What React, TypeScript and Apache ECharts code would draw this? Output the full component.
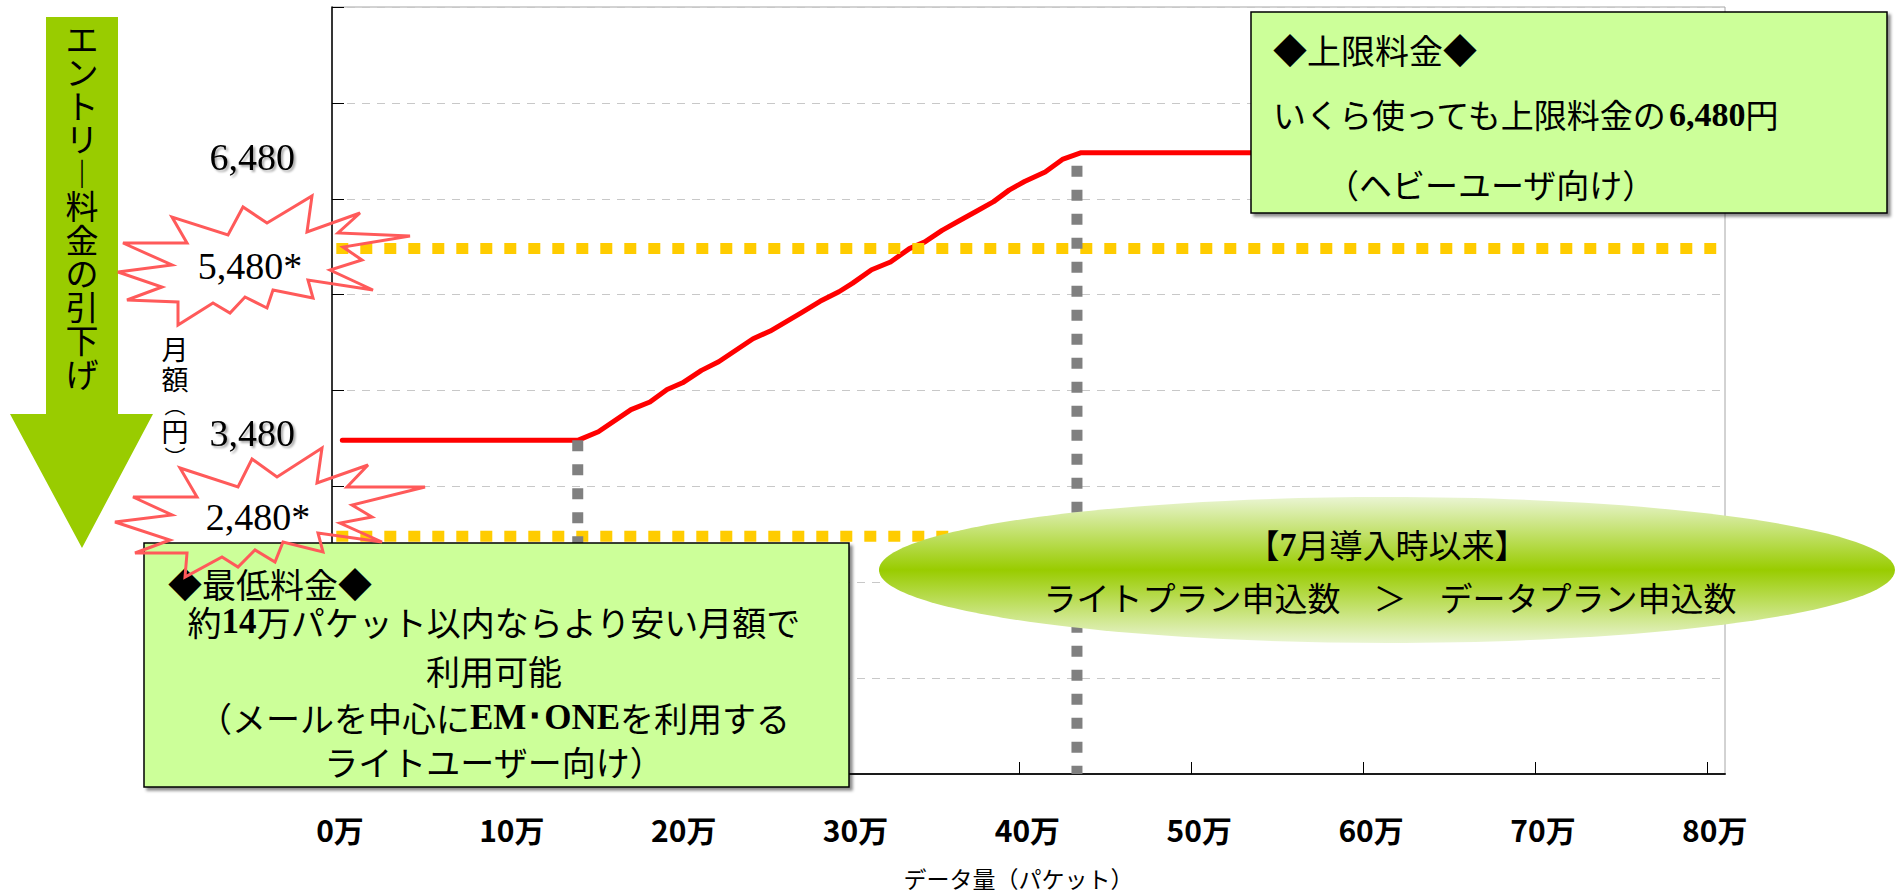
import { useEffect, useRef } from "react";
import * as echarts from "echarts";

// 横軸：データ量（万パケット）、縦軸：月額（円）
const xTickValues = [0, 10, 20, 30, 40, 50, 60, 70, 80];
const yAxisMax = 8000;
const yAxisStep = 1000;
const priceLabelValues = [3480, 6480];

// 従来料金カーブ（万パケット, 円）
const priceCurve: [number, number][] = [
  [0.6, 3480], [14.3, 3480], [15.5, 3570], [17.4, 3800], [18.5, 3880],
  [19.5, 4010], [20.4, 4080], [21.5, 4210], [22.5, 4300], [24.5, 4540],
  [25.5, 4620], [27.3, 4810], [28.4, 4930], [29.5, 5030], [30.3, 5120],
  [31.4, 5260], [32.5, 5340], [33.6, 5480], [34.5, 5550], [35.5, 5670],
  [36.5, 5770], [37.5, 5870], [38.5, 5970], [39.4, 6090], [40.3, 6180],
  [41.5, 6280], [42.5, 6410], [43.6, 6480], [80, 6480],
];

// 引下げ後のエントリー料金（上限・下限）
const newFeeLevels = [5480, 2480];
const newFeeSpan: [number, number] = [0.25, 80.55];

// 料金の折れ点（万パケット, 円）
const breakPoints: [number, number][] = [
  [14.3, 3480],
  [43.35, 6480],
];

const arrowTitle = "エントリー料金の引下げ";
const yAxisTitle = "月額（円）";
const xAxisTitle = "データ量（パケット）";

const minBoxTitle = "◆最低料金◆";
const minBoxLines = [
  "{n|約}{b|14}{n|万パケット以内ならより安い月額で}",
  "{n|利用可能}",
  "{n|（メールを中心に}{b|EM･ONE}{n|を利用する}",
  "{n|ライトユーザー向け）}",
];
const maxBoxTitle = "◆上限料金◆";
const maxBoxLines = [
  "{n|いくら使っても上限料金の}{b|6,480}{n|円}",
  "{n|（ヘビーユーザ向け）}",
];
const ovalLines = [
  "{n|【}{b|7}{n|月導入時以来】}",
  "{n|ライトプラン申込数　＞　データプラン申込数}",
];

const JP = "'Noto Sans CJK JP', 'Noto Sans', sans-serif";
const SERIF = "'Liberation Serif', 'DejaVu Serif', serif";

const fmt = (v: number) => v.toLocaleString("en-US");

const richJP = (size: number) => ({
  n: { fontFamily: JP, fontSize: size, fill: "#000", color: "#000" },
  b: { fontFamily: SERIF, fontSize: size + 1, fontWeight: "bold", fill: "#000", color: "#000" },
});

const toVertical = (s: string) =>
  Array.from(s)
    .map((c) => (c === "ー" ? "︱" : c))
    .join("\n");

const verticalRich = (s: string) =>
  Array.from(s)
    .map((c) => (c === "（" ? "{p|︵}" : c === "）" ? "{p|︶}" : `{a|${c}}`))
    .join("\n");

// 爆発形の吹き出し
const burstUpper: number[][] = [
  [118, 272], [172, 265], [123, 243], [187, 243], [172, 217], [228, 235],
  [243, 207], [267, 223], [312, 196], [307, 232], [360, 213], [338, 233],
  [410, 236], [343, 247], [362, 260], [330, 270], [373, 290], [308, 280],
  [313, 298], [273, 290], [267, 308], [245, 297], [230, 313], [213, 303],
  [178, 325], [178, 302], [127, 300], [162, 287],
];
const burstLower: number[][] = [
  [115, 522], [172, 515], [133, 497], [197, 497], [180, 468], [238, 487],
  [252, 459], [277, 477], [322, 448], [317, 483], [368, 465], [347, 487],
  [425, 487], [352, 505], [372, 517], [340, 523], [382, 542], [318, 533],
  [323, 552], [283, 542], [275, 562], [255, 550], [238, 567], [222, 557],
  [185, 577], [187, 553], [135, 553], [170, 540],
];

function textEl(x: number, y: number, text: string, extra: any = {}, z = 60) {
  const align = extra.align || "left";
  return {
    type: "text",
    x,
    y,
    z,
    style: {
      text,
      align,
      textAlign: align,
      verticalAlign: "middle",
      textVerticalAlign: "middle",
      fill: "#000",
      ...extra,
    },
  };
}

const priceLabelStyle = {
  fontFamily: SERIF,
  fontSize: 38,
  color: "#000",
  textShadowColor: "rgba(0,0,0,0.35)",
  textShadowBlur: 2,
  textShadowOffsetX: 2,
  textShadowOffsetY: 2,
};

export default function App() {
  const ref = useRef<HTMLDivElement>(null);

  useEffect(() => {
    if (!ref.current) return;
    const chart = echarts.init(ref.current, undefined, { renderer: "svg" });

    const series: any[] = [
      {
        type: "line",
        data: priceCurve,
        symbol: "none",
        silent: true,
        z: 3,
        lineStyle: { color: "#ff0000", width: 5, cap: "round", join: "round" },
      },
      ...newFeeLevels.map((lvl) => ({
        type: "line",
        data: [
          [newFeeSpan[0], lvl],
          [newFeeSpan[1], lvl],
        ],
        symbol: "none",
        silent: true,
        z: 4,
        lineStyle: { color: "#ffcc00", width: 11, type: [12, 12] },
      })),
      ...breakPoints.map(([x, top], i) => ({
        type: "line",
        data: [
          [x, top],
          [x, 0],
        ],
        symbol: "none",
        silent: true,
        z: 5,
        lineStyle: { color: "#808080", width: 11, type: [11, 13], dashOffset: i === 0 ? 0 : 11 },
      })),
    ];

    const boxStyle = {
      fill: "#ccff99",
      stroke: "#000",
      lineWidth: 1.5,
      shadowBlur: 3,
      shadowOffsetX: 3,
      shadowOffsetY: 3,
      shadowColor: "rgba(0,0,0,0.45)",
    };

    const graphics: any[] = [
      // 引下げ矢印
      {
        type: "polygon",
        z: 50,
        shape: {
          points: [[46, 17], [118, 17], [118, 414], [153, 414], [82, 548], [10, 414], [46, 414]],
        },
        style: { fill: "#99cc00" },
      },
      {
        type: "text",
        x: 82,
        y: 21,
        z: 51,
        style: {
          text: toVertical(arrowTitle),
          align: "center",
          textAlign: "center",
          verticalAlign: "top",
          textVerticalAlign: "top",
          fontFamily: JP,
          fontSize: 33,
          lineHeight: 33.5,
          fill: "#000",
        },
      },
      // 縦軸タイトル
      {
        type: "text",
        x: 175,
        y: 333,
        z: 51,
        style: {
          text: verticalRich(yAxisTitle),
          align: "center",
          textAlign: "center",
          verticalAlign: "top",
          textVerticalAlign: "top",
          rich: {
            a: { fontFamily: JP, fontSize: 27, lineHeight: 30, fill: "#000" },
            p: { fontFamily: JP, fontSize: 21, lineHeight: 22, fill: "#000" },
          },
        },
      },
      // 最低料金の枠
      {
        type: "rect",
        z: 52,
        shape: { x: 144, y: 543, width: 705, height: 244 },
        style: boxStyle,
      },
      textEl(168, 583, minBoxTitle, { fontFamily: JP, fontSize: 34 }),
      ...minBoxLines.map((line, i) =>
        textEl(494, [621, 670, 717, 761][i], line, { align: "center", rich: richJP(34) })
      ),
      // 吹き出し
      {
        type: "polygon",
        z: 70,
        shape: { points: burstUpper },
        style: { fill: "none", stroke: "#ff5a5a", lineWidth: 3, lineJoin: "miter" },
      },
      {
        type: "polygon",
        z: 70,
        shape: { points: burstLower },
        style: { fill: "none", stroke: "#ff5a5a", lineWidth: 3, lineJoin: "miter" },
      },
      textEl(250, 266, `${fmt(newFeeLevels[0])}*`, { align: "center", fontFamily: SERIF, fontSize: 38 }, 71),
      textEl(258, 517, `${fmt(newFeeLevels[1])}*`, { align: "center", fontFamily: SERIF, fontSize: 38 }, 71),
      // 上限料金の枠
      {
        type: "rect",
        z: 52,
        shape: { x: 1251, y: 12, width: 636, height: 201 },
        style: boxStyle,
      },
      textEl(1273, 49, maxBoxTitle, { fontFamily: JP, fontSize: 34 }),
      textEl(1273, 114, maxBoxLines[0], { rich: richJP(33) }),
      textEl(1326, 184, maxBoxLines[1], { rich: richJP(33) }),
      // 申込数の楕円
      {
        type: "ellipse",
        z: 52,
        shape: { cx: 1387, cy: 570, rx: 508, ry: 73 },
        style: {
          fill: new echarts.graphic.LinearGradient(0, 0, 0, 1, [
            { offset: 0, color: "#eaf5d3" },
            { offset: 0.5, color: "#99cc00" },
            { offset: 1, color: "#eaf5d3" },
          ]),
        },
      },
      textEl(1387, 544, ovalLines[0], { align: "center", rich: richJP(33) }),
      textEl(1390, 597, ovalLines[1], { align: "center", rich: richJP(33) }),
    ];

    const option: any = {
      animation: false,
      grid: {
        left: 332,
        top: 7,
        right: 171,
        bottom: 119,
        show: true,
        borderColor: "#a6a6a6",
        borderWidth: 1,
        outerBoundsMode: "none",
      },
      xAxis: {
        type: "value",
        min: 0,
        max: 81.06,
        axisLine: { show: true, onZero: false, lineStyle: { color: "#1a1a1a", width: 2 } },
        axisTick: {
          show: true,
          inside: true,
          length: 12,
          customValues: xTickValues,
          lineStyle: { color: "#000", width: 1 },
        },
        axisLabel: {
          customValues: xTickValues,
          formatter: (v: number) => `${v}万`,
          fontFamily: JP,
          fontSize: 30,
          fontWeight: "bold",
          color: "#000",
          margin: 40,
          padding: [0, 0, 0, 16],
        },
        splitLine: { show: false },
        name: xAxisTitle,
        nameLocation: "middle",
        nameGap: 92,
        nameTextStyle: { fontFamily: JP, fontSize: 23, color: "#000", padding: [0, 20, 0, 0] },
      },
      yAxis: {
        type: "value",
        min: 0,
        max: yAxisMax,
        interval: yAxisStep,
        axisLine: { show: true, lineStyle: { color: "#000", width: 1.5 } },
        axisTick: { show: true, inside: true, length: 12, lineStyle: { color: "#000" } },
        axisLabel: {
          customValues: priceLabelValues,
          formatter: (v: number) => (v < 5000 ? `{lo|${fmt(v)}}` : `{hi|${fmt(v)}}`),
          margin: 37,
          ...priceLabelStyle,
          rich: {
            lo: { ...priceLabelStyle, padding: [0, 0, 14, 0] },
            hi: { ...priceLabelStyle, padding: [8, 0, 0, 0] },
          },
        },
        splitLine: { show: true, lineStyle: { color: "#c8c8c8", type: [8, 7], width: 1 } },
      },
      series,
      graphic: { elements: graphics },
    };

    chart.setOption(option);
    return () => chart.dispose();
  }, []);

  return (
    <div
      ref={ref}
      style={{ position: "absolute", left: 0, top: 0, width: 1896, height: 893, background: "#fff" }}
    />
  );
}
